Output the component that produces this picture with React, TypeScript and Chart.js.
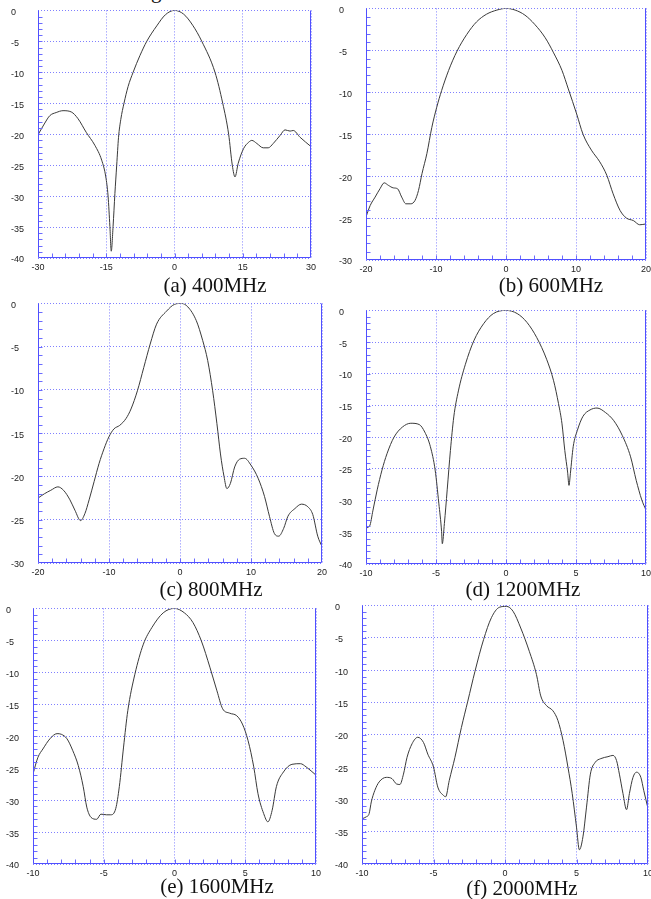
import React, { useEffect, useRef } from "react";
import { Chart, registerables } from "chart.js";
Chart.register(...registerables);

const TICK_FONT = "'Liberation Sans', Arial, sans-serif";
const CAP_FONT = "'Liberation Serif', 'Times New Roman', serif";

// (a) 400MHz
const aX = [-30, -28.5, -27.4, -26, -24.5, -22.7, -21.2, -19.4, -17.5, -16.0, -15.1, -14.6, -14.2, -13.9, -13.5, -13.1, -12.7, -12.3, -11.8, -11.1, -10.2, -9.1, -7.6, -6.1, -3.9, -2, 0, 2, 4, 6.0, 8.9, 10.6, 11.9, 12.7, 13.3, 14.0, 15.2, 16.3, 17.0, 18.1, 19.5, 20.6, 21.7, 23.2, 24.3, 25.4, 26.1, 27.6, 30];
const aY = [-20.1, -18.2, -17.0, -16.5, -16.2, -16.4, -17.5, -19.7, -21.8, -24.2, -26.9, -30, -34.9, -38.9, -34.9, -29.6, -25, -20.5, -17.6, -15, -12.3, -10, -7.3, -5, -2.5, -0.7, 0, -0.6, -2.4, -5, -10, -15, -20, -25, -26.9, -24.7, -22.3, -21.3, -21.0, -21.5, -22.2, -22.2, -21.5, -20.2, -19.3, -19.5, -19.4, -20.5, -22.0];

// (b) 600MHz
const bX = [-20, -19.4, -18.7, -18.0, -17.4, -16.8, -16.1, -15.5, -14.9, -14.3, -13.6, -13.0, -12.5, -12.0, -11.3, -10.6, -9.9, -9.2, -8.2, -7.0, -5.6, -4.2, -2.8, -1.3, 0, 1.3, 2.7, 4.1, 5.6, 6.8, 8.0, 8.9, 10.1, 11.0, 12.2, 13.4, 14.4, 15.3, 16.3, 17.2, 18.2, 19.1, 20];
const bY = [-24.85, -23.5, -22.5, -21.5, -20.8, -21.1, -21.4, -21.5, -22.5, -23.3, -23.3, -22.9, -21.7, -19.7, -17.3, -14.2, -11.8, -9.8, -7.4, -5.1, -3.1, -1.6, -0.7, -0.2, 0, -0.2, -0.8, -1.9, -3.5, -5.3, -7.4, -9.6, -12.6, -15.0, -16.9, -18.3, -19.9, -22.1, -24.1, -25.0, -25.3, -25.8, -25.7];

// (c) 800MHz
const cX = [-20, -19.1, -18.2, -17.2, -16.4, -15.5, -14.8, -14.0, -13.4, -12.8, -12.1, -11.4, -10.7, -10.0, -9.3, -8.5, -7.6, -6.9, -6.0, -5.1, -4.2, -3.3, -1.9, -0.75, 0.2, 1.1, 2.3, 3.2, 3.9, 4.6, 5.2, 5.7, 6.2, 6.6, 7.1, 7.7, 8.4, 9.1, 10.0, 11.0, 11.9, 12.6, 13.3, 13.9, 14.6, 15.2, 16.2, 17.1, 18.0, 18.7, 19.4, 20];
const cY = [-22.5, -22.0, -21.6, -21.2, -21.6, -22.7, -23.9, -25.1, -24.3, -22.7, -20.6, -18.5, -16.8, -15.4, -14.5, -14.1, -13.3, -12.2, -10.1, -7.4, -4.7, -2.4, -0.9, -0.1, 0, -0.4, -2.0, -4.3, -6.6, -10.1, -13.9, -17.4, -20.0, -21.4, -20.8, -18.9, -18.0, -17.9, -18.7, -20.2, -22.3, -24.6, -26.6, -26.9, -26.0, -24.6, -23.7, -23.2, -23.5, -24.4, -26.9, -28.1];

// (d) 1200MHz
const dX = [-10, -9.74, -9.5, -9.2, -8.86, -8.5, -8.0, -7.4, -6.8, -6.2, -5.8, -5.4, -5.06, -4.8, -4.6, -4.55, -4.4, -4.2, -3.97, -3.73, -3.4, -2.9, -2.3, -1.6, -0.9, 0, 0.8, 1.5, 2.2, 2.9, 3.4, 3.75, 4.0, 4.2, 4.4, 4.5, 4.6, 4.8, 5.1, 5.5, 6.0, 6.5, 7.1, 7.7, 8.3, 8.9, 9.3, 9.7, 10];
const dY = [-34.3, -34.0, -31.5, -28.3, -25.2, -22.6, -20.0, -18.4, -17.8, -18.0, -19.2, -21.5, -25.2, -30.4, -34.9, -36.8, -33.6, -28.3, -22.1, -16.8, -12.7, -8.5, -4.8, -2.1, -0.5, 0, -0.5, -1.9, -4.3, -7.7, -11.1, -14.7, -17.9, -22.1, -25.5, -27.6, -25.7, -21.5, -18.9, -16.7, -15.7, -15.4, -16.1, -17.4, -19.7, -23.1, -26.8, -29.9, -31.5];

// (e) 1600MHz
const eX = [-10, -9.65, -9.3, -8.8, -8.3, -8.0, -7.6, -7.2, -6.8, -6.45, -6.2, -5.9, -5.5, -5.2, -4.8, -4.5, -4.15, -3.9, -3.6, -3.3, -2.8, -2.2, -1.6, -0.8, 0, 0.7, 1.3, 1.9, 2.5, 3.0, 3.4, 3.9, 4.4, 4.8, 5.2, 5.6, 5.9, 6.3, 6.6, 6.9, 7.2, 7.7, 8.3, 8.9, 9.3, 10];
const eY = [-25.9, -23.3, -22.0, -20.4, -19.6, -19.7, -20.4, -22.2, -24.6, -27.9, -31.1, -32.7, -33.0, -32.2, -32.3, -32.3, -31.3, -27.9, -21.7, -16.0, -10.3, -5.6, -3.0, -0.7, 0, -0.7, -2.2, -5.1, -9.2, -12.9, -15.7, -16.4, -16.8, -18.1, -20.7, -24.8, -29.0, -32.1, -33.4, -31.6, -27.9, -25.6, -24.4, -24.3, -24.8, -26.1];

// (f) 2000MHz
const fX = [-10, -9.7, -9.5, -9.35, -9.1, -8.8, -8.3, -7.9, -7.6, -7.35, -7.1, -6.85, -6.5, -6.1, -5.7, -5.4, -5.0, -4.7, -4.3, -4.15, -3.9, -3.5, -3.05, -2.6, -2.1, -1.5, -0.95, -0.4, 0.1, 0.56, 1.1, 1.7, 2.2, 2.5, 2.9, 3.35, 3.7, 4.06, 4.4, 4.7, 5.0, 5.2, 5.45, 5.7, 5.97, 6.3, 6.7, 7.2, 7.55, 7.8, 8.0, 8.25, 8.5, 8.7, 8.95, 9.2, 9.5, 9.7, 10];
const fY = [-33.0, -32.7, -32.2, -30.4, -28.6, -27.3, -26.6, -26.8, -27.6, -27.7, -26.1, -23.5, -21.4, -20.4, -21.2, -23.0, -25.0, -28.1, -29.4, -29.6, -27.1, -23.5, -18.9, -14.8, -10.2, -5.3, -1.9, -0.3, -0.15, -0.9, -3.5, -7.1, -10.7, -14.0, -15.5, -16.3, -17.8, -20.9, -25.0, -29.1, -34.3, -37.8, -35.8, -31.2, -26.1, -24.3, -23.7, -23.4, -23.2, -24.0, -26.1, -29.1, -31.6, -29.1, -26.6, -25.8, -26.6, -28.6, -31.4];

const CAPTIONS = ["(a) 400MHz", "(b) 600MHz", "(c) 800MHz", "(d) 1200MHz", "(e) 1600MHz", "(f) 2000MHz"];

type Panel = {
  xs: number[]; ys: number[];
  xMin: number; xMax: number; xStep: number; xMinor: number;
  yMin: number; yStep: number; yMinor: number;
  L: number; T: number; R: number; B: number;
  caption: string; capX: number; capY: number;
};

const PANELS: Panel[] = [
  { xs: aX, ys: aY, xMin: -30, xMax: 30, xStep: 15, xMinor: 3, yMin: -40, yStep: 5, yMinor: 1, L: 38, T: 9, R: 311, B: 258, caption: CAPTIONS[0], capX: 215, capY: 285 },
  { xs: bX, ys: bY, xMin: -20, xMax: 20, xStep: 10, xMinor: 2, yMin: -30, yStep: 5, yMinor: 1, L: 366, T: 7, R: 646, B: 260, caption: CAPTIONS[1], capX: 551, capY: 285 },
  { xs: cX, ys: cY, xMin: -20, xMax: 20, xStep: 10, xMinor: 2, yMin: -30, yStep: 5, yMinor: 1, L: 38, T: 302, R: 322, B: 563, caption: CAPTIONS[2], capX: 211, capY: 589 },
  { xs: dX, ys: dY, xMin: -10, xMax: 10, xStep: 5, xMinor: 1, yMin: -40, yStep: 5, yMinor: 1, L: 366, T: 309, R: 646, B: 564, caption: CAPTIONS[3], capX: 523, capY: 589 },
  { xs: eX, ys: eY, xMin: -10, xMax: 10, xStep: 5, xMinor: 1, yMin: -40, yStep: 5, yMinor: 1, L: 33, T: 607, R: 316, B: 864, caption: CAPTIONS[4], capX: 217, capY: 886 },
  { xs: fX, ys: fY, xMin: -10, xMax: 10, xStep: 5, xMinor: 1, yMin: -40, yStep: 5, yMinor: 1, L: 362, T: 604, R: 648, B: 864, caption: CAPTIONS[5], capX: 522, capY: 888 },
];

const YW = 27;
const PAD_T = 8;
const PAD_R = 12;
const XH = 18;

function makeFrame(p: Panel) {
  return {
    id: "frame",
    afterDraw(chart: any) {
      const { ctx, chartArea: a, scales } = chart;
      const sx = scales.x, sy = scales.y;
      const l = Math.round(a.left) + 0.5;
      const r = Math.round(a.right) - 0.5;
      const b = Math.round(a.bottom) - 0.5;
      const t = Math.round(a.top) + 0.5;
      ctx.save();
      ctx.lineWidth = 1;
      // minor ticks
      ctx.strokeStyle = "#6b6bff";
      ctx.beginPath();
      const nx = Math.round((p.xMax - p.xMin) / p.xMinor);
      for (let i = 1; i < nx; i++) {
        const px = Math.round(sx.getPixelForValue(p.xMin + i * p.xMinor)) + 0.5;
        ctx.moveTo(px, b);
        ctx.lineTo(px, b - 4);
      }
      const ny = Math.round((0 - p.yMin) / p.yMinor);
      for (let i = 1; i < ny; i++) {
        const py = Math.round(sy.getPixelForValue(p.yMin + i * p.yMinor)) + 0.5;
        ctx.moveTo(l, py);
        ctx.lineTo(l + 4, py);
      }
      ctx.stroke();
      // frame
      ctx.strokeStyle = "#5050ff";
      ctx.beginPath();
      ctx.moveTo(l, t);
      ctx.lineTo(l, b);
      ctx.lineTo(r, b);
      ctx.lineTo(r, t);
      ctx.stroke();
      ctx.restore();
    },
  };
}

function PanelChart({ p }: { p: Panel }) {
  const ref = useRef<HTMLCanvasElement>(null);
  const w = p.R - p.L + YW + PAD_R;
  const h = p.B - p.T + PAD_T + XH;
  useEffect(() => {
    const data = p.xs.map((x, i) => ({ x, y: p.ys[i] }));
    const chart = new Chart(ref.current as HTMLCanvasElement, {
      type: "line",
      data: {
        datasets: [
          {
            data,
            borderColor: "#3a3a3a",
            borderWidth: 1,
            pointRadius: 0,
            cubicInterpolationMode: "monotone",
            fill: false,
          },
        ],
      },
      options: {
        responsive: false,
        animation: false,
        devicePixelRatio: 1,
        layout: { padding: { top: PAD_T, right: PAD_R, left: 0, bottom: 0 } },
        plugins: { legend: { display: false }, tooltip: { enabled: false } },
        scales: {
          x: {
            type: "linear",
            min: p.xMin,
            max: p.xMax,
            afterFit: (s: any) => { s.height = XH; },
            ticks: {
              stepSize: p.xStep,
              autoSkip: false,
              maxRotation: 0,
              padding: 4,
              color: "#222",
              font: { family: TICK_FONT, size: 9 },
            },
            grid: { color: "#8080ff", drawTicks: false, lineWidth: 1 },
            border: { display: false, dash: [1, 2] },
          },
          y: {
            type: "linear",
            min: p.yMin,
            max: 0,
            afterFit: (s: any) => { s.width = YW; },
            ticks: {
              stepSize: p.yStep,
              autoSkip: false,
              crossAlign: "far",
              labelOffset: 2,
              padding: 4,
              color: "#222",
              font: { family: TICK_FONT, size: 9 },
            },
            grid: { color: "#8080ff", drawTicks: false, lineWidth: 1 },
            border: { display: false, dash: [1, 2] },
          },
        },
      } as any,
      plugins: [makeFrame(p)],
    });
    return () => chart.destroy();
  }, []);
  return (
    <canvas
      ref={ref}
      width={w}
      height={h}
      style={{ position: "absolute", left: p.L - YW, top: p.T - PAD_T, width: w, height: h }}
    />
  );
}

export default function App() {
  return (
    <div
      style={{
        position: "absolute",
        left: 0,
        top: 0,
        width: 651,
        height: 899,
        overflow: "hidden",
        background: "#fff",
      }}
    >
      <div
        style={{
          position: "absolute",
          left: 151,
          top: -19,
          fontFamily: CAP_FONT,
          fontSize: 21,
          lineHeight: "21px",
          color: "#111",
        }}
      >
        g
      </div>
      {PANELS.map((p, i) => (
        <React.Fragment key={i}>
          <PanelChart p={p} />
          <div
            style={{
              position: "absolute",
              left: p.capX,
              top: p.capY,
              transform: "translate(-50%, -50%)",
              fontFamily: CAP_FONT,
              fontSize: 21,
              lineHeight: 1,
              whiteSpace: "nowrap",
              color: "#111",
            }}
          >
            {p.caption}
          </div>
        </React.Fragment>
      ))}
    </div>
  );
}
